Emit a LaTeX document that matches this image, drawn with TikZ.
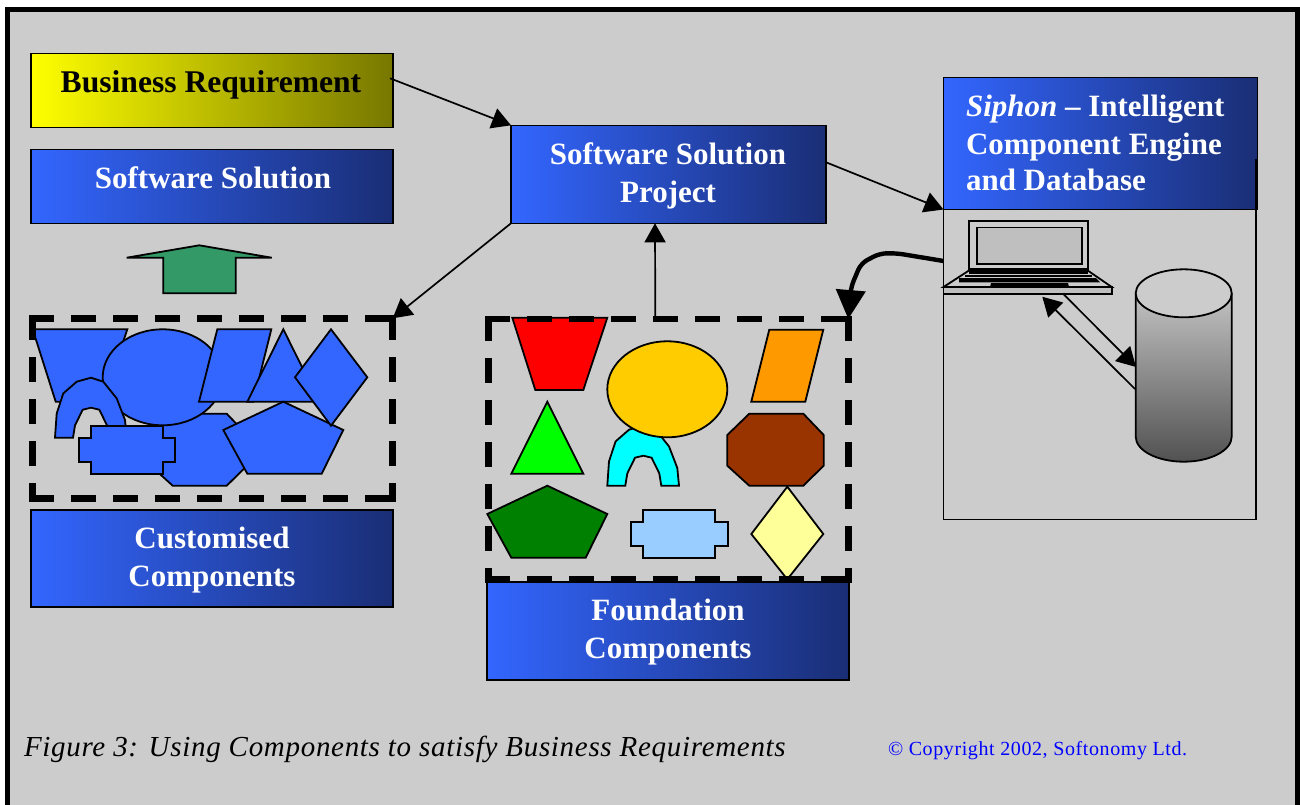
\documentclass[tikz,border=0pt]{standalone}
\usepackage{fontspec}
\setmainfont{Liberation Serif}
\usetikzlibrary{arrows.meta,calc}
\definecolor{panel}{HTML}{CCCCCC}
\definecolor{bluel}{HTML}{3366FF}
\definecolor{bluer}{HTML}{1A2E75}
\definecolor{yelr}{HTML}{777700}
\definecolor{shapeblue}{HTML}{3366FF}
\definecolor{upgreen}{HTML}{339966}
\definecolor{cred}{HTML}{FF0000}
\definecolor{corange}{HTML}{FFCC00}
\definecolor{cpara}{HTML}{FF9900}
\definecolor{clime}{HTML}{00FF00}
\definecolor{ccyan}{HTML}{00FFFF}
\definecolor{cbrown}{HTML}{993300}
\definecolor{cgreen}{HTML}{008000}
\definecolor{clblue}{HTML}{99CCFF}
\definecolor{cyel}{HTML}{FFFF99}
\tikzset{
  x=1pt,y=-1pt,
  every node/.style={outer sep=0pt,inner sep=0pt},
  bluebox/.style={draw=black,line width=1.5pt,left color=bluel,right color=bluer,rectangle},
  yellowbox/.style={draw=black,line width=1.5pt,left color=yellow,right color=yelr,rectangle},
  boxtext/.style={font=\fontsize{31}{38}\selectfont\bfseries,text=white,align=center},
  shp/.style={draw=black,line width=1.8pt,line join=miter},
  conn/.style={draw=black,line width=1.7pt,-{Triangle[length=19pt,width=21pt]}},
  dashline/.style={draw=black,line width=6.7pt,dash pattern=on 25pt off 17pt},
  region/.style={rectangle,inner sep=0pt},
  thin line/.style={draw=black,line width=1.8pt},
}
\newcommand{\archshape}[3]{%
  \draw[shp,fill=#3] (#1,#2) ++(0,60) -- ++(1.7,-24.3) -- ++(6.6,-20) -- ++(13.4,-11.7) -- ++(14.3,-4)
   -- ++(12.3,4) -- ++(13.4,16.7) -- ++(8.3,21.6) -- ++(1.7,17.7) -- ++(-17.7,0) -- ++(-2,-12.3)
   -- ++(-7.7,-15.7) -- ++(-8.3,-2) -- ++(-8.3,2) -- ++(-7.7,15.7) -- ++(-2,12.3) -- cycle;}
\newcommand{\plaqueshape}[3]{%
  \draw[shp,fill=#3] (#1,#2) -- ++(72,0) -- ++(0,12) -- ++(12.3,0) -- ++(0,24) -- ++(-12.3,0) -- ++(0,12)
   -- ++(-72,0) -- ++(0,-12) -- ++(-12,0) -- ++(0,-24) -- ++(12,0) -- cycle;}
\newcommand{\octshape}[3]{%
  \draw[shp,fill=#3] (#1,#2) -- ++(54,0) -- ++(20.4,21.3) -- ++(0,30.7) -- ++(-20.4,20) -- ++(-54,0)
   -- ++(-22,-20) -- ++(0,-30.7) -- cycle;}
\newcommand{\dashedframe}[1]{%
  \draw[dashline] ($(#1.north west)+(-3.25,0)$) -- ($(#1.north east)+(3.25,0)$);
  \draw[dashline] ($(#1.south west)+(-3.25,0)$) -- ($(#1.south east)+(3.25,0)$);
  \draw[dashline] ($(#1.north west)+(0,-3.25)$) -- ($(#1.south west)+(0,3.25)$);
  \draw[dashline] ($(#1.north east)+(0,-3.25)$) -- ($(#1.south east)+(0,3.25)$);}
\begin{document}
\begin{tikzpicture}
\useasboundingbox (0,0) rectangle (1300,805);
\fill[white] (0,0) rectangle (1300,805);
\fill[black] (5,7) rectangle (1300,805);
\fill[panel] (10,12) rectangle (1295,805);

% boxes
\node[yellowbox,minimum width=362pt,minimum height=74pt] (bus) at (212,90.3) {};
\node[font=\fontsize{31.6}{36}\selectfont\bfseries,text=black] (bustext) at (211,85) {Business Requirement};
\node[bluebox,minimum width=362pt,minimum height=74pt] (sol) at (212,186.3) {};
\node[boxtext] (soltext) at (213,178) {Software Solution};
\node[bluebox,minimum width=315pt,minimum height=98pt] (proj) at (668.5,174.3) {};
\node[boxtext] (projtext) at (668,176) {Software Solution\\Project};
\node[bluebox,minimum width=314pt,minimum height=132pt] (sip) at (1100.5,143.5) {};
\node[boxtext,align=left,anchor=north west] (siptext) at (966,94.5) {\textit{Siphon} -- Intelligent\\Component Engine\\[-1.5pt]and Database};
\node[bluebox,minimum width=362pt,minimum height=97pt] (cus) at (212,558.5) {};
\node[boxtext] (custext) at (212,560) {Customised\\Components};
\node[bluebox,minimum width=362pt,minimum height=98pt] (fou) at (668,631) {};
\node[boxtext] (foutext) at (668,632) {Foundation\\Components};

% regions bounded by the dashed frames
\node[region,minimum width=360pt,minimum height=180pt] (cusreg) at (212.7,408.3) {};
\node[region,minimum width=360pt,minimum height=260.3pt] (foureg) at (668.3,449.2) {};

% siphon container
\draw[thin line] (943.5,172) -- (943.5,519.5) -- (1255.7,519.5) -- (1255.7,159);
\coordinate (sipedge) at (943.5,261);

% up arrow
\draw[shp,fill=upgreen] (126.7,257.7) -- (199.3,245.3) -- (271.7,257.7) -- (235.7,257.7) -- (235.7,293.3) -- (163.3,293.3) -- (163.3,257.7) -- cycle;

% customised (all blue) shapes
\draw[shp,fill=shapeblue] (32.7,329.3) -- (127.3,329.3) -- (103.3,401.7) -- (55.7,401.7) -- cycle;
\octshape{172.7}{413.7}{shapeblue}
\draw[shp,fill=shapeblue] (162.7,377.3) ellipse [x radius=60,y radius=48];
\draw[shp,fill=shapeblue] (217.3,329.3) -- (271.3,329.3) -- (253.3,401.7) -- (199,401.7) -- cycle;
\draw[shp,fill=shapeblue] (283.3,329.3) -- (319.3,401.7) -- (247.3,401.7) -- cycle;
\draw[shp,fill=shapeblue] (283.3,401.7) -- (343.3,430) -- (321.7,473.7) -- (247.3,473.7) -- (223.3,430) -- cycle;
\draw[shp,fill=shapeblue] (331,329.3) -- (367.3,377.3) -- (331,425.7) -- (295,377.3) -- cycle;
\archshape{55}{377.7}{shapeblue}
\plaqueshape{91}{425.7}{shapeblue}

% foundation (coloured) shapes
\draw[shp,fill=cred] (512.3,317.7) -- (607.3,317.7) -- (583.3,390) -- (535.3,390) -- cycle;
\archshape{607.3}{425.7}{ccyan}
\draw[shp,fill=corange] (667.3,389.3) ellipse [x radius=60,y radius=48];
\draw[shp,fill=cpara] (769.3,329.7) -- (823.3,329.7) -- (805.3,401.7) -- (751.3,401.7) -- cycle;
\draw[shp,fill=clime] (547.3,401.7) -- (583.3,473.7) -- (511.3,473.7) -- cycle;
\octshape{749.3}{413.7}{cbrown}
\draw[shp,fill=cgreen] (547.3,485.7) -- (607.3,514) -- (585.7,557.7) -- (511.3,557.7) -- (487.3,514) -- cycle;
\plaqueshape{643.3}{509.7}{clblue}
\draw[shp,fill=cyel] (787.3,486.7) -- (823.3,534) -- (787.3,579.3) -- (751.3,534) -- cycle;

\dashedframe{cusreg}
\dashedframe{foureg}

% laptop
\draw[shp,fill=panel] (969,221) rectangle (1087.7,269.3);
\draw[shp,fill=black!25] (977.3,227.5) rectangle (1082,263.7);
\draw[shp,fill=panel] (943.5,287) -- (969,270.5) -- (1087.7,270.5) -- (1111.7,287) -- cycle;
\fill[black] (969,271) rectangle (1087.7,274);
\fill[black] (965,274.5) rectangle (1092,277);
\fill[black] (959,278) -- (1096,278) -- (1100,282.3) -- (959,282.3) -- cycle;
\fill[black] (991,283) -- (1068,283) -- (1069,287) -- (990,287) -- cycle;
\node[draw=black,line width=1.8pt,fill=black!25,rectangle,minimum width=168.2pt,minimum height=6.5pt] (lap) at (1027.6,290.5) {};

% database
\shade[top color=panel!95!black,bottom color=black!68]
  (1135.7,293.3) -- (1135.7,436.7) arc[start angle=180,end angle=0,x radius=48,y radius=25] -- (1231.7,293.3) -- cycle;
\draw[shp] (1135.7,293.3) -- (1135.7,436.7) arc[start angle=180,end angle=0,x radius=48,y radius=25] -- (1231.7,293.3);
\draw[shp,fill=panel] (1183.7,293.3) ellipse [x radius=48,y radius=24];

% connectors
\draw[conn] ($(bus.east)+(-3,-12)$) -- (proj.north west);
\draw[conn] ($(proj.east)+(0,-12)$) -- (sip.south west);
\draw[conn] (proj.south west) -- (cusreg.north east);
\draw[conn] ($(foureg.north)+(-13,0)$) -- ($(proj.south)+(-13.5,0)$);
\draw[line width=4.4pt,rounded corners=7pt,-{Triangle[length=29pt,width=29pt]}] (sipedge)
  -- (897,253.3) -- (880,253.3) -- (861,263.3) -- (851,287) -- (foureg.north east);
\draw[conn] ($(lap.south)+(35.5,0)$) -- (1136,367);
\draw[conn] (1135,389) -- ($(lap.south)+(14.7,3)$);

% caption
\node[anchor=base west,font=\fontsize{29}{32}\selectfont\itshape] (cap) at (24,756) {\addfontfeature{LetterSpace=2.4}Figure 3: Using Components to satisfy Business Requirements};
\node[anchor=base west,font=\fontsize{20}{24}\selectfont,text=blue] (copy) at (888,755) {\addfontfeature{LetterSpace=3}© Copyright 2002, Softonomy Ltd.};
\end{tikzpicture}
\end{document}
